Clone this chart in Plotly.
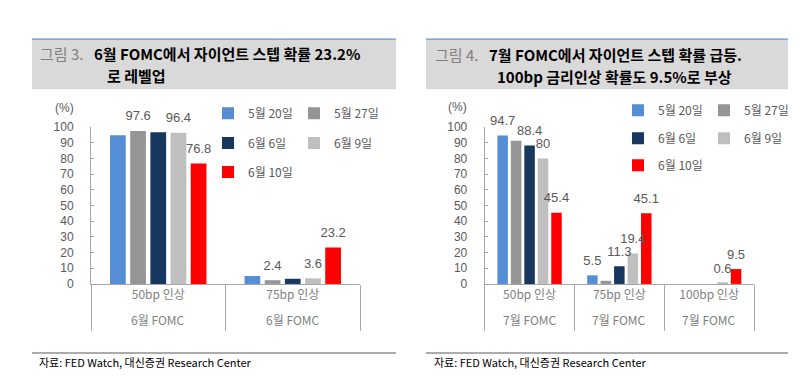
import plotly.graph_objects as go

W, H = 805, 378

# ---------------- data ----------------
series_names = ["5월 20일", "5월 27일", "6월 6일", "6월 9일", "6월 10일"]
series_colors = ["#558ED5", "#959595", "#17375E", "#BFBFBF", "#FF0000"]

left_cat_line1 = ["50bp 인상", "75bp 인상"]
left_cat_line2 = ["6월 FOMC", "6월 FOMC"]
left_0520 = [94.9, 5.1]
left_0527 = [97.6, 2.4]
left_0606 = [96.7, 3.3]
left_0609 = [96.4, 3.6]
left_0610 = [76.8, 23.2]
left_show_0520 = [False, False]
left_show_0527 = [True, True]
left_show_0606 = [False, False]
left_show_0609 = [True, True]
left_show_0610 = [True, True]

right_cat_line1 = ["50bp 인상", "75bp 인상", "100bp 인상"]
right_cat_line2 = ["7월 FOMC", "7월 FOMC", "7월 FOMC"]
right_0520 = [94.7, 5.5, 0]
right_0527 = [91.4, 2.0, 0]
right_0606 = [88.4, 11.3, 0]
right_0609 = [80, 19.4, 0.6]
right_0610 = [45.4, 45.1, 9.5]
right_show_0520 = [True, True, False]
right_show_0527 = [False, False, False]
right_show_0606 = [True, True, False]
right_show_0609 = [True, True, True]
right_show_0610 = [True, True, True]

y_ticks = [0, 10, 20, 30, 40, 50, 60, 70, 80, 90, 100]

left_series = [left_0520, left_0527, left_0606, left_0609, left_0610]
left_shows = [left_show_0520, left_show_0527, left_show_0606, left_show_0609, left_show_0610]
right_series = [right_0520, right_0527, right_0606, right_0609, right_0610]
right_shows = [right_show_0520, right_show_0527, right_show_0606, right_show_0609, right_show_0610]

title_left_1 = "6월 FOMC에서 자이언트 스텝 확률 23.2%"
title_left_2 = "로 레벨업"
title_right_1 = "7월 FOMC에서 자이언트 스텝 확률 급등."
title_right_2 = "100bp 금리인상 확률도 9.5%로 부상"
source_text = "자료: FED Watch, 대신증권 Research Center"

# ---------------- helpers ----------------
def px(x):
    return x / W

def py(y):
    return 1 - y / H

LATIN = "Liberation Sans, Arial, Noto Sans CJK KR, sans-serif"
KR = "Noto Sans CJK KR, sans-serif"
TXT = "#595959"
AX = "#A6A6A6"

fig = go.Figure()

legend_rows_left = ["legend", "legend", "legend2", "legend2", "legend3"]
legend_rows_right = ["legend4", "legend4", "legend5", "legend5", "legend6"]


def fmt(v):
    return ("%g" % v)


for tag, cats, series, shows, xa, ya, legs in [
    ("L", left_cat_line1, left_series, left_shows, "x", "y", legend_rows_left),
    ("R", right_cat_line1, right_series, right_shows, "x2", "y2", legend_rows_right),
]:
    for i, name in enumerate(series_names):
        fig.add_trace(go.Bar(
            x=cats, y=series[i], name=name, xaxis=xa, yaxis=ya,
            alignmentgroup=tag, offsetgroup=tag + str(i),
            marker=dict(color=series_colors[i], line=dict(width=0)),
            legend=legs[i], showlegend=True, hoverinfo="skip",
        ))
    for i, name in enumerate(series_names):
        labels = [fmt(v) if s else "" for v, s in zip(series[i], shows[i])]
        fig.add_trace(go.Scatter(
            x=cats, y=series[i], text=labels, mode="markers+text",
            xaxis=xa, yaxis=ya,
            alignmentgroup=tag, offsetgroup=tag + str(i),
            marker=dict(size=10, color="rgba(0,0,0,0)"),
            textposition="top center",
            textfont=dict(family=LATIN, size=13, color=TXT),
            showlegend=False, hoverinfo="skip", cliponaxis=False,
        ))

y0 = py(279.3)
y1 = py(116.5)

xaxis_common = dict(
    type="category", showline=True, linecolor=AX, linewidth=1,
    ticks="outside", tickson="boundaries", ticklen=46, tickcolor=AX, tickwidth=1,
    tickfont=dict(family=KR, size=12, color="#7F7F7F"),
    ticklabelstandoff=0, showgrid=False, zeroline=False, fixedrange=True,
)
yaxis_common = dict(
    range=[0, 100], tickmode="array", tickvals=y_ticks, ticktext=[str(v) for v in y_ticks],
    ticks="inside", ticklen=3, tickcolor=AX, showline=True, linecolor=AX, linewidth=1,
    tickfont=dict(family=LATIN, size=12, color=TXT), ticklabelstandoff=14,
    showgrid=False, zeroline=False, fixedrange=True,
)

fig.update_layout(
    width=W, height=H,
    margin=dict(l=0, r=0, t=0, b=0),
    paper_bgcolor="white", plot_bgcolor="white",
    font=dict(family=KR, size=12, color=TXT),
    barmode="group", bargap=0.25, bargroupgap=0.22,
    scattermode="group", scattergap=0.25,
    xaxis=dict(domain=[px(83), px(352)], anchor="y", **xaxis_common),
    yaxis=dict(domain=[y0, y1], anchor="x", **yaxis_common),
    xaxis2=dict(domain=[px(476.7), px(746)], anchor="y2", **xaxis_common),
    yaxis2=dict(domain=[y0, y1], anchor="x2", **yaxis_common),
)

leg_common = dict(orientation="h", xanchor="left", yanchor="middle",
                  bgcolor="rgba(0,0,0,0)", font=dict(family=KR, size=12, color=TXT),
                  itemwidth=30, entrywidth=41, traceorder="normal", borderwidth=0)
fig.update_layout(
    legend=dict(x=px(200), y=py(102), **leg_common),
    legend2=dict(x=px(200), y=py(133), **leg_common),
    legend3=dict(x=px(200), y=py(163), **leg_common),
    legend4=dict(x=px(610), y=py(99), **leg_common),
    legend5=dict(x=px(610), y=py(128), **leg_common),
    legend6=dict(x=px(610), y=py(156), **leg_common),
)

shapes = []
annotations = []

# title boxes, source rules
for (xl, xr) in [(24, 388), (418, 780)]:
    shapes.append(dict(type="rect", xref="paper", yref="paper",
                       x0=px(xl), x1=px(xr), y0=py(77), y1=py(25),
                       fillcolor="#D9D9D9", line=dict(width=0), layer="below"))
    shapes.append(dict(type="line", xref="paper", yref="paper",
                       x0=px(xl), x1=px(xr), y0=py(25), y1=py(25),
                       line=dict(color="#4F81BD", width=1)))
    shapes.append(dict(type="line", xref="paper", yref="paper",
                       x0=px(xl), x1=px(xr), y0=py(351), y1=py(351),
                       line=dict(color="#595959", width=1)))

def ann(text, x, y, size, color, bold=False, xanchor="left", family=KR):
    t = "<b>%s</b>" % text if bold else text
    annotations.append(dict(text=t, x=px(x), y=py(y), xref="paper", yref="paper",
                            xanchor=xanchor, yanchor="middle", showarrow=False,
                            borderpad=0, borderwidth=0,
                            font=dict(family=family, size=size, color=color)))

ann("그림 3.", 32, 40, 15, "#808080")
ann(title_left_1, 86, 40, 15, "#000000", bold=True)
ann(title_left_2, 99, 62.5, 15, "#000000", bold=True)
ann("그림 4.", 427, 41, 15, "#808080")
ann(title_right_1, 481, 41, 15, "#000000", bold=True)
ann(title_right_2, 489, 63.5, 15, "#000000", bold=True)

ann("(%)", 56, 97, 12, TXT, xanchor="center", family=LATIN)
ann("(%)", 449, 96, 12, TXT, xanchor="center", family=LATIN)

ann(source_text, 31, 360, 11, "#000000")
ann(source_text, 426, 360, 11, "#000000")

# second line of the category labels
for cats, line2, xr in [(left_cat_line1, left_cat_line2, "x"), (right_cat_line1, right_cat_line2, "x2")]:
    for c, t in zip(cats, line2):
        annotations.append(dict(text=t, x=c, xref=xr, y=py(316), yref="paper",
                                xanchor="center", yanchor="middle", showarrow=False,
                                font=dict(family=KR, size=12, color="#7F7F7F")))

fig.update_layout(shapes=shapes, annotations=annotations)

fig.write_html("out.html")
